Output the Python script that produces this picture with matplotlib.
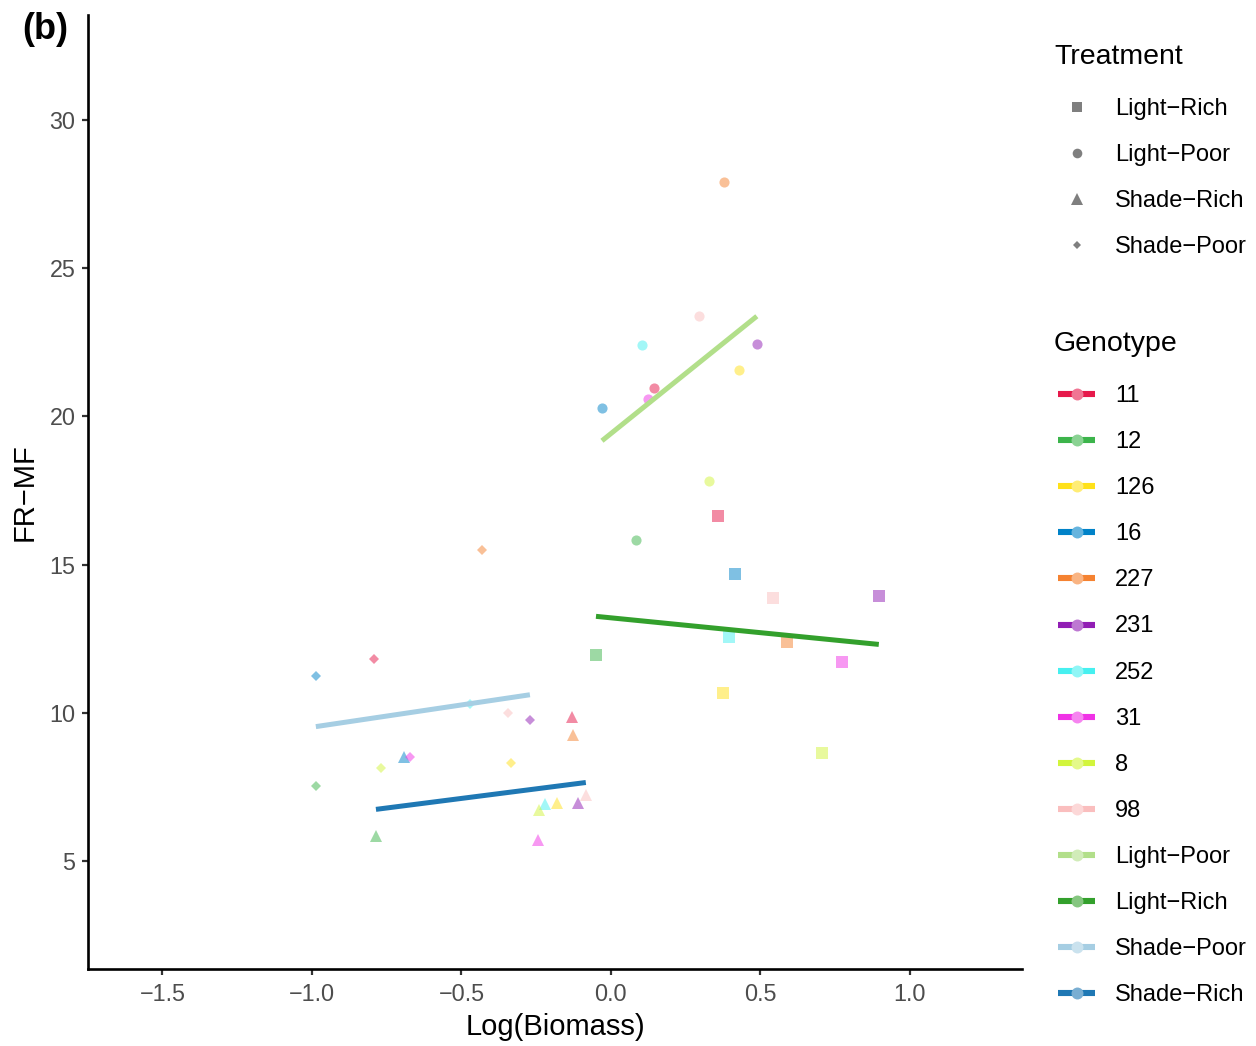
import numpy as np
import matplotlib
matplotlib.use('Agg')
import matplotlib.pyplot as plt
from matplotlib.lines import Line2D
from matplotlib.colors import to_rgb

plt.rcParams['font.family'] = ['Liberation Sans', 'DejaVu Sans']

# genotype order used by every treatment array below
genotypes = ['11', '12', '126', '16', '227', '231', '252', '31', '8', '98']
geno_colors = ['#e6194b', '#3cb44b', '#ffe119', '#0082c8', '#f58231',
               '#911eb4', '#46f0f0', '#f032e6', '#d2f53c', '#fabebe']

treatments = ['Light-Rich', 'Light-Poor', 'Shade-Rich', 'Shade-Poor']
treat_markers = ['s', 'o', '^', 'D']
treat_colors = {'Light-Poor': '#b2df8a', 'Light-Rich': '#33a02c',
                'Shade-Poor': '#a6cee3', 'Shade-Rich': '#1f78b4'}

lr_x = [0.358, -0.050, 0.375, 0.415, 0.589, 0.896, 0.395, 0.773, 0.706, 0.542]
lr_y = [16.64, 11.95, 10.67, 14.68, 12.39, 13.94, 12.56, 11.71, 8.64, 13.87]
lp_x = [0.144, 0.084, 0.428, -0.030, 0.378, 0.488, 0.104, 0.124, 0.328, 0.294]
lp_y = [20.96, 15.83, 21.57, 20.28, 27.91, 22.44, 22.41, 20.59, 17.82, 23.39]
sr_x = [-0.130, -0.786, -0.181, -0.692, -0.127, -0.110, -0.221, -0.244, -0.241, -0.084]
sr_y = [9.86, 5.84, 6.96, 8.51, 9.25, 6.96, 6.92, 5.71, 6.72, 7.23]
sp_x = [-0.793, -0.987, -0.334, -0.987, -0.431, -0.271, -0.472, -0.672, -0.769, -0.344]
sp_y = [11.81, 7.53, 8.31, 11.24, 15.49, 9.76, 10.30, 8.51, 8.14, 9.99]

data = {'Light-Rich': (lr_x, lr_y), 'Light-Poor': (lp_x, lp_y),
        'Shade-Rich': (sr_x, sr_y), 'Shade-Poor': (sp_x, sp_y)}
msize = {'s': 8, 'o': 7.3, '^': 9, 'D': 4.6}


def pale(c, a=0.5):
    r = np.array(to_rgb(c))
    return tuple(r * a + (1 - a))


fig = plt.figure(figsize=(12.56, 10.46), dpi=100)
ax = fig.add_axes([0.0701, 0.0736, 0.7436, 0.9121])

for t, m in zip(treatments, treat_markers):
    xs, ys = data[t]
    for x, y, c in zip(xs, ys, geno_colors):
        ax.plot(x, y, m, color=c, alpha=0.5, ms=msize[m], mew=0)

# lm fit per treatment (geom_smooth method='lm', se=FALSE)
for t in ['Light-Poor', 'Light-Rich', 'Shade-Poor', 'Shade-Rich']:
    xs, ys = np.array(data[t][0]), np.array(data[t][1])
    b, a = np.polyfit(xs, ys, 1)
    xx = np.array([xs.min(), xs.max()])
    ax.plot(xx, a + b * xx, color=treat_colors[t], lw=3.6, solid_capstyle='butt')

ax.set_xlim(-1.749, 1.375)
ax.set_ylim(1.36, 33.54)
ax.set_xticks([-1.5, -1.0, -0.5, 0.0, 0.5, 1.0])
ax.set_xticklabels(['\u22121.5', '\u22121.0', '\u22120.5', '0.0', '0.5', '1.0'])
ax.set_yticks([5, 10, 15, 20, 25, 30])
for s in ['top', 'right']:
    ax.spines[s].set_visible(False)
for s in ['left', 'bottom']:
    ax.spines[s].set_linewidth(1.9)
ax.tick_params(length=4.5, width=1.6, color='#333333', labelcolor='#4d4d4d',
               labelsize=16.8)
ax.tick_params(axis='x', pad=5.5)
ax.tick_params(axis='y', pad=4.5)
ax.set_xlabel('Log(Biomass)', fontsize=21, labelpad=5)
ax.set_ylabel('FR\u2212MF', fontsize=21, labelpad=8)

fig.text(0.0175, 0.972, '(b)', fontsize=26, fontweight='bold', va='center')

# legends drawn by hand in pixel coordinates of the figure
W, H = 1256, 1046


def fx(px):
    return px / W


def fy(py):
    return 1 - py / H


fig.text(fx(1054), fy(57), 'Treatment', fontsize=20.5, va='center')
for i, (t, m) in enumerate(zip(treatments, treat_markers)):
    y = 107 + i * 46
    fig.add_artist(Line2D([fx(1077)], [fy(y)], marker=m, color='#7f7f7f',
                          ms=msize[m] * 0.95, mew=0, transform=fig.transFigure))
    fig.text(fx(1115), fy(y + 2), t.replace('-', '\u2212'), fontsize=17, va='center')

fig.text(fx(1054), fy(344), 'Genotype', fontsize=20.5, va='center')
labels = genotypes + ['Light-Poor', 'Light-Rich', 'Shade-Poor', 'Shade-Rich']
cols = geno_colors + [treat_colors[k] for k in labels[10:]]
for i, (lab, c) in enumerate(zip(labels, cols)):
    y = 394 + i * 46.1
    fig.add_artist(Line2D([fx(1058), fx(1095)], [fy(y), fy(y)], color=c, lw=4.4,
                          solid_capstyle='butt', transform=fig.transFigure))
    fig.add_artist(Line2D([fx(1076.5)], [fy(y)], marker='o', color=pale(c, 0.6),
                          ms=8.6, mew=0, transform=fig.transFigure))
    fig.text(fx(1115), fy(y + 2), lab.replace('-', '\u2212'), fontsize=17, va='center')

fig.savefig('out.png', dpi=100)
